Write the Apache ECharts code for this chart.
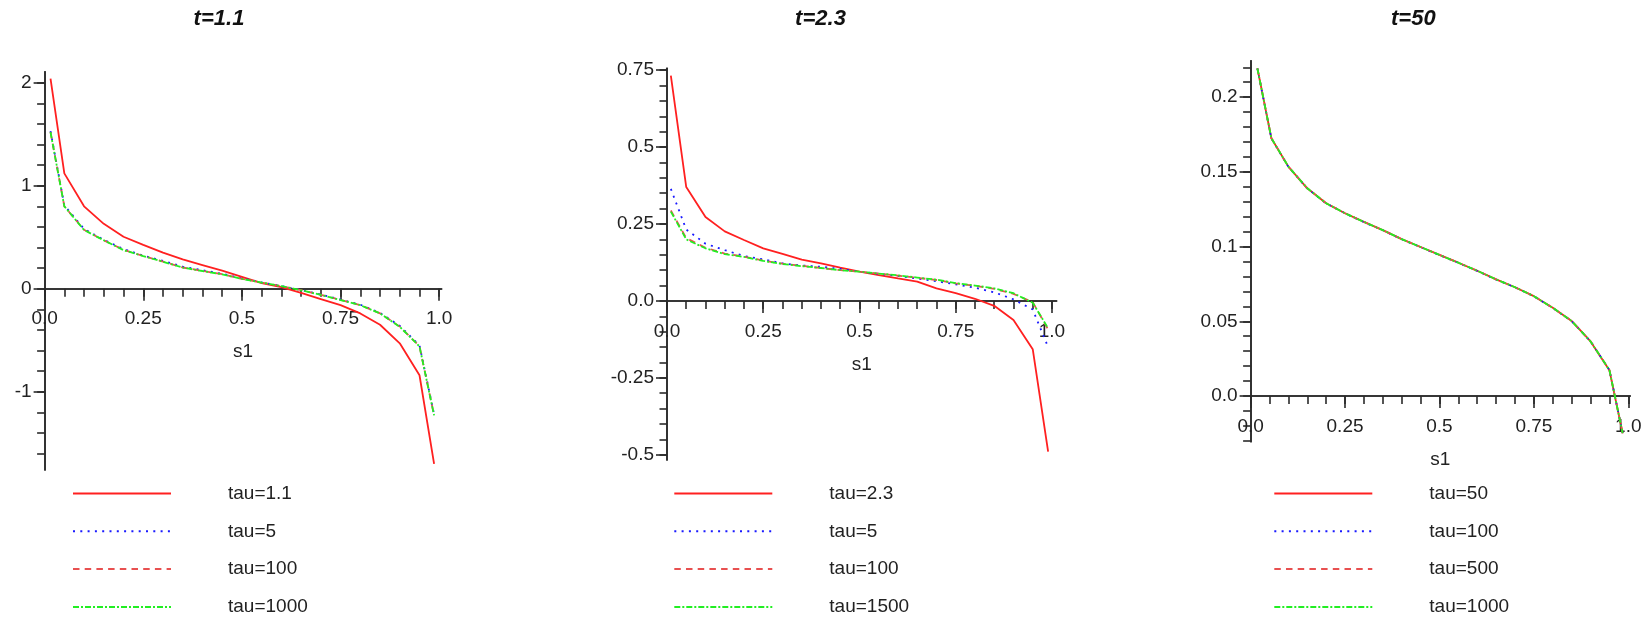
<!DOCTYPE html>
<html>
<head>
<meta charset="utf-8">
<script src="https://cdn.jsdelivr.net/npm/echarts@6/dist/echarts.min.js"></script>
<style>
  html, body { margin: 0; padding: 0; background: #ffffff; }
  #chart { width: 1650px; height: 624px; }
</style>
</head>
<body>
<div id="chart"></div>
<script>
// ---- data: s1 sample points and curve values for each t ----
const s1_t11 = [0.015, 0.05, 0.10, 0.15, 0.20, 0.25, 0.30, 0.35, 0.40, 0.45, 0.50, 0.55, 0.60, 0.65, 0.70, 0.75, 0.80, 0.85, 0.90, 0.95, 0.987];
const t11_tau1_1  = [2.04, 1.12, 0.80, 0.63, 0.505, 0.425, 0.35, 0.285, 0.23, 0.175, 0.115, 0.055, 0.015, -0.04, -0.10, -0.16, -0.24, -0.35, -0.53, -0.84, -1.70];
const t11_tau5    = [1.53, 0.81, 0.58, 0.475, 0.385, 0.322, 0.27, 0.215, 0.18, 0.145, 0.10, 0.062, 0.026, -0.012, -0.057, -0.105, -0.155, -0.235, -0.36, -0.55, -1.22];
const t11_tau100  = [1.52, 0.80, 0.572, 0.47, 0.378, 0.318, 0.263, 0.206, 0.173, 0.141, 0.096, 0.06, 0.025, -0.014, -0.059, -0.109, -0.159, -0.239, -0.368, -0.558, -1.23];
const t11_tau1000 = [1.52, 0.80, 0.57, 0.47, 0.375, 0.317, 0.262, 0.205, 0.172, 0.14, 0.095, 0.06, 0.025, -0.015, -0.06, -0.11, -0.16, -0.24, -0.37, -0.56, -1.23];

const s1_t23 = [0.01, 0.05, 0.10, 0.15, 0.20, 0.25, 0.30, 0.35, 0.40, 0.45, 0.50, 0.55, 0.60, 0.65, 0.70, 0.75, 0.80, 0.85, 0.90, 0.95, 0.99];
const t23_tau2_3  = [0.732, 0.37, 0.273, 0.226, 0.198, 0.171, 0.153, 0.134, 0.122, 0.108, 0.095, 0.084, 0.073, 0.063, 0.041, 0.025, 0.007, -0.016, -0.062, -0.157, -0.49];
const t23_tau5    = [0.364, 0.232, 0.186, 0.165, 0.146, 0.135, 0.122, 0.115, 0.111, 0.104, 0.095, 0.088, 0.081, 0.073, 0.064, 0.054, 0.043, 0.028, 0.005, -0.028, -0.15];
const t23_tau100  = [0.294, 0.204, 0.173, 0.154, 0.144, 0.131, 0.121, 0.114, 0.107, 0.10, 0.095, 0.089, 0.082, 0.075, 0.068, 0.057, 0.049, 0.039, 0.023, -0.004, -0.093];
const t23_tau1500 = [0.29, 0.20, 0.171, 0.152, 0.143, 0.13, 0.12, 0.113, 0.107, 0.10, 0.095, 0.089, 0.083, 0.076, 0.069, 0.058, 0.05, 0.041, 0.025, -0.006, -0.089];

const s1_t50 = [0.018, 0.055, 0.10, 0.15, 0.20, 0.25, 0.30, 0.35, 0.40, 0.45, 0.50, 0.55, 0.60, 0.65, 0.70, 0.75, 0.80, 0.85, 0.90, 0.95, 0.985];
const t50_tau50   = [0.2193, 0.1725, 0.1535, 0.139, 0.129, 0.1223, 0.1165, 0.111, 0.105, 0.0997, 0.0944, 0.0892, 0.0838, 0.078, 0.0728, 0.0668, 0.059, 0.0502, 0.0365, 0.0172, -0.025];
const t50_tau100  = [0.2192, 0.1724, 0.1534, 0.1389, 0.1289, 0.1222, 0.1164, 0.1109, 0.1049, 0.0996, 0.0943, 0.0891, 0.0837, 0.0779, 0.0727, 0.0667, 0.0589, 0.0501, 0.0366, 0.0174, -0.0248];
const t50_tau500  = [0.2193, 0.1725, 0.1535, 0.139, 0.129, 0.1223, 0.1165, 0.111, 0.105, 0.0997, 0.0944, 0.0892, 0.0838, 0.078, 0.0728, 0.0668, 0.059, 0.0502, 0.0365, 0.0173, -0.0249];
const t50_tau1000 = [0.2193, 0.1725, 0.1535, 0.139, 0.129, 0.1223, 0.1165, 0.111, 0.105, 0.0997, 0.0944, 0.0892, 0.0838, 0.078, 0.0728, 0.0668, 0.059, 0.0502, 0.0365, 0.0173, -0.0249];

// ---- tick labels ----
const xTickVals = [0, 0.25, 0.5, 0.75, 1.0];
const xTickText = ['0.0', '0.25', '0.5', '0.75', '1.0'];
const yTickVals_t11 = [-1, 0, 1, 2];
const yTickText_t11 = ['-1', '0', '1', '2'];
const yTickVals_t23 = [-0.5, -0.25, 0, 0.25, 0.5, 0.75];
const yTickText_t23 = ['-0.5', '-0.25', '0.0', '0.25', '0.5', '0.75'];
const yTickVals_t50 = [0, 0.05, 0.1, 0.15, 0.2];
const yTickText_t50 = ['0.0', '0.05', '0.1', '0.15', '0.2'];

// ---- styling ----
const FONT = '"Liberation Sans", Arial, sans-serif';
const INK = '#222222';
const AXIS = '#2a2a2a';
const RED = '#ff2020';
const RED_DASH = '#e85050';
const BLUE = '#1a1aff';
const GREEN = '#22ee22';
const STYLES = {
  solid:   { color: RED,      type: 'solid' },
  dotted:  { color: BLUE,     type: [2, 5.3] },
  dashed:  { color: RED_DASH, type: [6.5, 5.2] },
  dashdot: { color: GREEN,    type: [6, 2, 2, 2] }
};

function steps(from, to, step) {
  const out = [];
  const n = Math.round((to - from) / step);
  for (let k = 0; k <= n; k++) out.push(+(from + k * step).toFixed(6));
  return out;
}
function labelFrom(vals, texts) {
  return function (v) {
    for (let k = 0; k < vals.length; k++) if (Math.abs(vals[k] - v) < 1e-9) return texts[k];
    return '';
  };
}
function pairs(xs, ys) { return xs.map((x, k) => [x, ys[k]]); }

const panels = [
  {
    title: 't=1.1', titleX: 219,
    grid: { left: 44.6, top: 71.7, width: 397, height: 398.3 },
    xMax: 1.006, yMin: -1.76, yMax: 2.107,
    yVals: yTickVals_t11, yText: yTickText_t11, yMinor: steps(-1.6, 2.0, 0.2),
    legendLeft: 72,
    series: [
      { name: 'tau=1.1',  style: 'solid',   x: s1_t11, y: t11_tau1_1 },
      { name: 'tau=5',    style: 'dotted',  x: s1_t11, y: t11_tau5 },
      { name: 'tau=100',  style: 'dashed',  x: s1_t11, y: t11_tau100 },
      { name: 'tau=1000', style: 'dashdot', x: s1_t11, y: t11_tau1000 }
    ]
  },
  {
    title: 't=2.3', titleX: 820.5,
    grid: { left: 667, top: 68.3, width: 389.6, height: 391.7 },
    xMax: 1.012, yMin: -0.517, yMax: 0.756,
    yVals: yTickVals_t23, yText: yTickText_t23, yMinor: steps(-0.5, 0.75, 0.05),
    legendLeft: 673.3,
    series: [
      { name: 'tau=2.3',  style: 'solid',   x: s1_t23, y: t23_tau2_3 },
      { name: 'tau=5',    style: 'dotted',  x: s1_t23, y: t23_tau5 },
      { name: 'tau=100',  style: 'dashed',  x: s1_t23, y: t23_tau100 },
      { name: 'tau=1500', style: 'dashdot', x: s1_t23, y: t23_tau1500 }
    ]
  },
  {
    title: 't=50', titleX: 1413.3,
    grid: { left: 1250.6, top: 60.7, width: 379.6, height: 381 },
    xMax: 1.005, yMin: -0.0306, yMax: 0.2244,
    yVals: yTickVals_t50, yText: yTickText_t50, yMinor: steps(-0.03, 0.22, 0.01),
    legendLeft: 1273.3,
    series: [
      { name: 'tau=50',   style: 'solid',   x: s1_t50, y: t50_tau50 },
      { name: 'tau=100',  style: 'dotted',  x: s1_t50, y: t50_tau100 },
      { name: 'tau=500',  style: 'dashed',  x: s1_t50, y: t50_tau500 },
      { name: 'tau=1000', style: 'dashdot', x: s1_t50, y: t50_tau1000 }
    ]
  }
];

const xMinor = steps(0, 1.0, 0.05);
const axisLineStyle = { color: AXIS, width: 1.6 };
const labelText = { fontFamily: FONT, fontSize: 19, color: INK };

const option = {
  animation: false,
  backgroundColor: '#ffffff',
  title: [], grid: [], xAxis: [], yAxis: [], legend: [], series: []
};

panels.forEach((p, i) => {
  // the horizontal axis sits on the line y = 0, measured up from the grid's bottom edge
  const zeroOffset = -(0 - p.yMin) / (p.yMax - p.yMin) * p.grid.height;

  option.title.push({
    text: p.title, left: p.titleX, top: 19, padding: 0,
    textAlign: 'center', textVerticalAlign: 'middle',
    textStyle: { fontFamily: FONT, fontSize: 22, fontWeight: 'bold', fontStyle: 'italic', color: '#111' }
  });
  option.grid.push(Object.assign({ containLabel: false, outerBoundsMode: 'none' }, p.grid));

  // x axes: minor ticks + labels + name, then major ticks
  option.xAxis.push({
    type: 'value', gridIndex: i, position: 'bottom', offset: zeroOffset, min: 0, max: p.xMax,
    axisLine: { onZero: false, lineStyle: axisLineStyle },
    axisTick: { customValues: xMinor, length: 8, lineStyle: axisLineStyle },
    axisLabel: Object.assign({ customValues: xTickVals, formatter: labelFrom(xTickVals, xTickText), margin: 21 }, labelText),
    splitLine: { show: false },
    name: 's1', nameLocation: 'middle', nameGap: 54, nameTextStyle: labelText
  });
  option.xAxis.push({
    type: 'value', gridIndex: i, position: 'bottom', offset: zeroOffset, min: 0, max: p.xMax,
    axisLine: { onZero: false, lineStyle: axisLineStyle },
    axisTick: { customValues: xTickVals, length: 12, lineStyle: axisLineStyle },
    axisLabel: { show: false },
    splitLine: { show: false }
  });

  // y axes: minor ticks + labels, then major ticks
  option.yAxis.push({
    type: 'value', gridIndex: i, position: 'left', min: p.yMin, max: p.yMax,
    axisLine: { show: true, onZero: false, lineStyle: axisLineStyle },
    axisTick: { customValues: p.yMinor, length: 7.5, lineStyle: axisLineStyle },
    axisLabel: Object.assign({ customValues: p.yVals, formatter: labelFrom(p.yVals, p.yText), margin: 13 }, labelText),
    splitLine: { show: false }
  });
  option.yAxis.push({
    type: 'value', gridIndex: i, position: 'left', min: p.yMin, max: p.yMax,
    axisLine: { show: true, onZero: false, lineStyle: axisLineStyle },
    axisTick: { customValues: p.yVals, length: 11, lineStyle: axisLineStyle },
    axisLabel: { show: false },
    splitLine: { show: false }
  });

  // legend keys are plain line samples: the marker glyph is made invisible
  option.legend.push({
    show: true, orient: 'vertical', left: p.legendLeft, top: 484, padding: 0,
    itemWidth: 98, itemHeight: 20, itemGap: 18.8, selectedMode: false,
    textStyle: Object.assign({ padding: [0, 0, 0, 52] }, labelText),
    data: p.series.map(s => ({
      name: s.name,
      itemStyle: { color: 'rgba(0,0,0,0)', borderColor: 'rgba(0,0,0,0)', borderWidth: 0, opacity: 0 },
      lineStyle: { color: STYLES[s.style].color, type: STYLES[s.style].type, width: 2, opacity: 1 }
    }))
  });

  p.series.forEach(s => {
    option.series.push({
      type: 'line', name: s.name, xAxisIndex: 2 * i, yAxisIndex: 2 * i,
      data: pairs(s.x, s.y), showSymbol: false, symbol: 'none', clip: false,
      lineStyle: { color: STYLES[s.style].color, type: STYLES[s.style].type, width: 1.8 },
      itemStyle: { color: STYLES[s.style].color },
      emphasis: { disabled: true }
    });
  });
});

const chart = echarts.init(document.getElementById('chart'), null, { renderer: 'canvas' });
chart.setOption(option);
</script>
</body>
</html>
